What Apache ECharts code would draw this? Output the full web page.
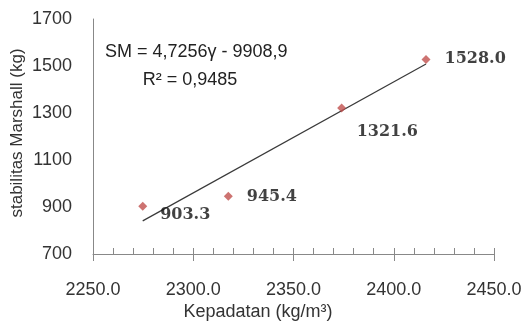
<!DOCTYPE html>
<html>
<head>
<meta charset="utf-8">
<script src="https://cdn.jsdelivr.net/npm/echarts@6/dist/echarts.min.js"></script>
<style>html,body{margin:0;padding:0;background:#fff;}#c{width:525px;height:324px;}</style>
</head>
<body>
<div id="c"></div>
<script>
// Data
var density = [2274.8, 2317.5, 2374.0, 2416.1];
var stability = [903.3, 945.4, 1321.6, 1528.0];
var pointLabels = ['903.3', '945.4', '1321.6', '1528.0'];
var trendSlope = 4.7256;
var trendIntercept = -9908.9;
var equationLine1 = 'SM = 4,7256\u03b3 - 9908,9';
var equationLine2 = 'R\u00b2 = 0,9485';
var xTitle = 'Kepadatan (kg/m\u00b3)';
var yTitle = 'stabilitas Marshall (kg)';

var labelPos = [[22, 13], [23, 5.5], [19.6, 28], [23, 4]];

function hasFont(name) {
  var ctx = document.createElement('canvas').getContext('2d');
  ctx.font = '40px monospace';
  var a = ctx.measureText('2250.0 abcMWxyz').width;
  ctx.font = '40px "' + name + '", monospace';
  var b = ctx.measureText('2250.0 abcMWxyz').width;
  return Math.abs(a - b) > 0.5;
}
var narrow = hasFont('Liberation Sans Narrow');
var fam = narrow ? '"Liberation Sans Narrow", "Liberation Sans", sans-serif' : '"Liberation Sans", Arial, sans-serif';
var fsAxis = narrow ? 21 : 18;
var fsEq = narrow ? 22 : 18;
var fsTitleX = narrow ? 21 : 18;
var fsTitleY = narrow ? 21 : 17;

var scatterData = density.map(function (x, i) {
  return {
    value: [x, stability[i]],
    label: { show: true, formatter: pointLabels[i], position: labelPos[i], align: 'left', verticalAlign: 'middle' }
  };
});
var xMin = Math.min.apply(null, density), xMax = Math.max.apply(null, density);
var trendData = [[xMin, trendSlope * xMin + trendIntercept], [xMax, trendSlope * xMax + trendIntercept]];

var axisFont = { fontFamily: fam, fontSize: fsAxis, color: '#333' };

var chart = echarts.init(document.getElementById('c'), null, { renderer: 'canvas' });
chart.setOption({
  animation: false,
  backgroundColor: '#fff',
  grid: { left: 93, right: 31, top: 19, bottom: 70, containLabel: false },
  xAxis: [{
    type: 'value', min: 2250, max: 2450, interval: 50, position: 'bottom',
    axisLine: { show: true, lineStyle: { color: '#888', width: 1 } },
    axisTick: { show: true, length: 7, inside: false, lineStyle: { color: '#888' } },
    splitLine: { show: false },
    axisLabel: Object.assign({ margin: 27, formatter: function (v) { return v.toFixed(1); } }, axisFont)
  }, {
    type: 'value', min: 2250, max: 2450, interval: 50, position: 'bottom', offset: 0,
    axisLine: { show: false },
    axisTick: { show: true, length: 6, inside: true, lineStyle: { color: '#888' } },
    minorTick: { show: true, splitNumber: 5, length: 6, lineStyle: { color: '#888' } },
    splitLine: { show: false },
    axisLabel: { show: false }
  }],
  yAxis: {
    type: 'value', min: 700, max: 1700, interval: 200,
    axisLine: { show: true, lineStyle: { color: '#888', width: 1 } },
    axisTick: { show: false },
    splitLine: { show: false },
    axisLabel: Object.assign({ margin: 21, formatter: function (v) { return String(v); } }, axisFont)
  },
  graphic: [
    { type: 'text', x: 105, y: 52, style: { text: equationLine1, font: fsEq + 'px ' + fam, fill: '#222', align: 'left', verticalAlign: 'middle' } },
    { type: 'text', x: 190, y: 80, style: { text: equationLine2, font: fsEq + 'px ' + fam, fill: '#222', align: 'center', verticalAlign: 'middle' } },
    { type: 'text', x: 258, y: 312, style: { text: xTitle, font: fsTitleX + 'px ' + fam, fill: '#333', align: 'center', verticalAlign: 'middle' } },
    { type: 'text', x: 17, y: 133, rotation: Math.PI / 2, style: { text: yTitle, font: fsTitleY + 'px ' + fam, fill: '#333', align: 'center', verticalAlign: 'middle' } }
  ],
  series: [{
    type: 'line', data: trendData, xAxisIndex: 0, showSymbol: false, symbol: 'none',
    lineStyle: { color: '#3a3a3a', width: 1.2 }, silent: true, z: 2
  }, {
    type: 'scatter', data: scatterData, xAxisIndex: 0, symbol: 'diamond', symbolSize: 9,
    itemStyle: { color: '#c0504d' }, z: 3,
    label: { fontFamily: 'DejaVu Serif, serif', fontWeight: 'bold', fontSize: 16, color: '#111' }
  }]
});
</script>
</body>
</html>
